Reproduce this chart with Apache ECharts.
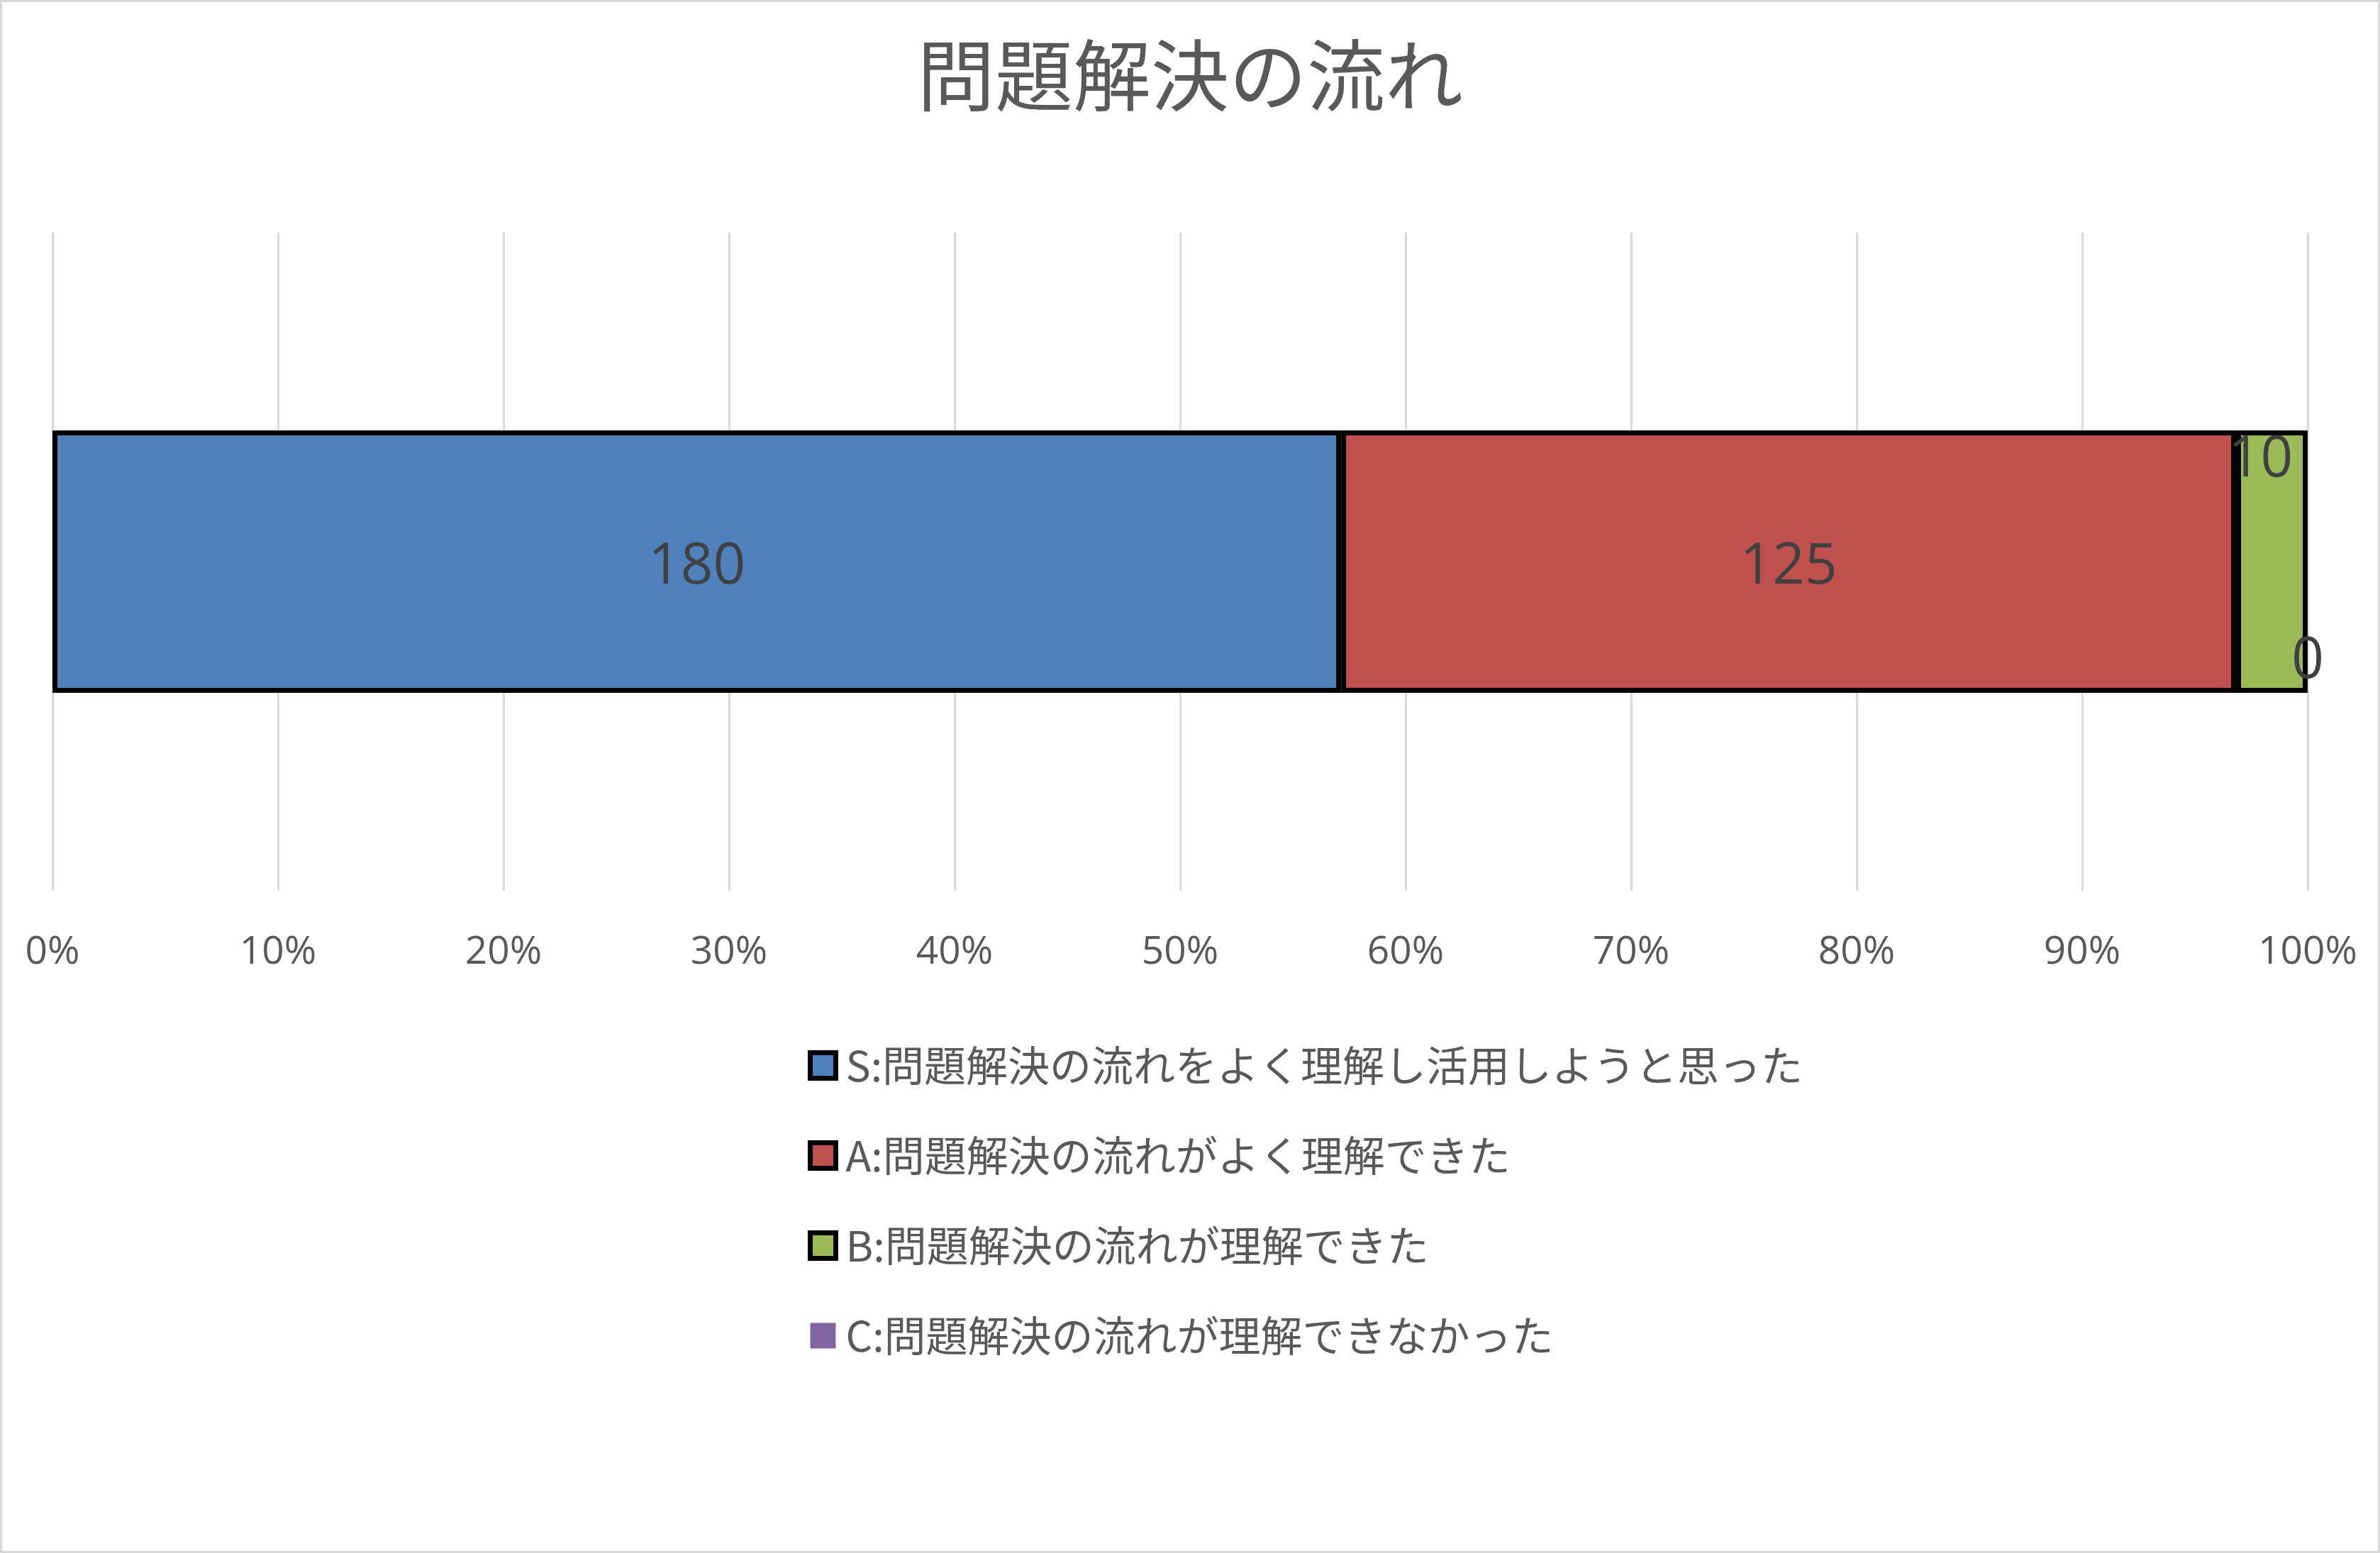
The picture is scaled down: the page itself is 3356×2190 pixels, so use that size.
<!DOCTYPE html>
<html>
<head>
<meta charset="utf-8">
<style>
html,body{margin:0;padding:0;background:#fff;}
#chart{width:3356px;height:2190px;}
</style>
<script src="https://cdn.jsdelivr.net/npm/echarts@6/dist/echarts.min.js"></script>
</head>
<body>
<div id="chart"></div>
<script>
const titleText = '問題解決の流れ';
const categories = ['問題解決の流れ'];
const seriesNames = [
  'S:問題解決の流れをよく理解し活用しようと思った',
  'A:問題解決の流れがよく理解できた',
  'B:問題解決の流れが理解できた',
  'C:問題解決の流れが理解できなかった'
];
const valuesS = [180];
const valuesA = [125];
const valuesB = [10];
const valuesC = [0];
const xTicks = [0, 10, 20, 30, 40, 50, 60, 70, 80, 90, 100];
const colors = ['#4F81BD', '#C0504D', '#9BBB59', '#8064A2'];

const allValues = [valuesS, valuesA, valuesB, valuesC];
const totals = categories.map((c, i) => allValues.reduce((s, arr) => s + arr[i], 0));

const labelOffsets = [[0, 8], [0, 8], [-16, -143], [0, 141]];
const hasBorder = [true, true, true, false];

const chart = echarts.init(document.getElementById('chart'));
const series = allValues.map((vals, si) => ({
  name: seriesNames[si],
  type: 'bar',
  stack: 'total',
  barWidth: 370,
  data: vals.map((v, i) => v / totals[i] * 100),
  itemStyle: {
    color: colors[si],
    borderColor: hasBorder[si] ? '#000' : 'transparent',
    borderWidth: hasBorder[si] ? 7 : 0
  },
  label: {
    show: true,
    position: 'inside',
    offset: labelOffsets[si],
    color: '#404040',
    fontSize: 80,
    fontFamily: 'Open Sans',
    formatter: p => String(vals[p.dataIndex])
  },
  emphasis: { disabled: true },
  animation: false
}));

chart.setOption({
  animation: false,
  backgroundColor: '#fff',
  title: {
    text: titleText,
    left: 'center',
    top: 46,
    textStyle: {
      color: '#595959',
      fontSize: 110,
      fontWeight: 'normal',
      fontFamily: 'Noto Sans CJK JP'
    }
  },
  grid: { left: 74, right: 102, top: 328, bottom: 2190 - 1256, containLabel: false },
  xAxis: {
    type: 'value',
    min: xTicks[0],
    max: xTicks[xTicks.length - 1],
    interval: xTicks[1] - xTicks[0],
    axisLine: { show: false },
    axisTick: { show: false },
    splitLine: { show: true, lineStyle: { color: '#D9D9D9', width: 3 } },
    axisLabel: {
      formatter: '{value}%',
      color: '#595959',
      fontSize: 55,
      fontFamily: 'Open Sans',
      margin: 60
    }
  },
  yAxis: {
    type: 'category',
    data: categories,
    axisLine: { show: false },
    axisTick: { show: false },
    axisLabel: { show: false },
    splitLine: { show: false }
  },
  legend: {
    orient: 'vertical',
    left: 1134,
    top: 1468,
    itemWidth: 36,
    itemHeight: 36,
    itemGap: 68,
    icon: 'rect',
    selectedMode: false,
    textStyle: {
      color: '#595959',
      fontSize: 59,
      lineHeight: 59,
      fontFamily: 'Noto Sans CJK JP',
      padding: [0, 0, 0, 9]
    },
    data: seriesNames.map((n, si) => ({
      name: n,
      itemStyle: {
        color: colors[si],
        borderColor: hasBorder[si] ? '#000' : 'transparent',
        borderWidth: hasBorder[si] ? 7 : 0
      }
    }))
  },
  graphic: [{
    type: 'rect',
    shape: { x: 1.5, y: 1.5, width: 3353, height: 2187 },
    style: { fill: 'none', stroke: '#D9D9D9', lineWidth: 3 },
    silent: true
  }],
  series: series
});
</script>
</body>
</html>
